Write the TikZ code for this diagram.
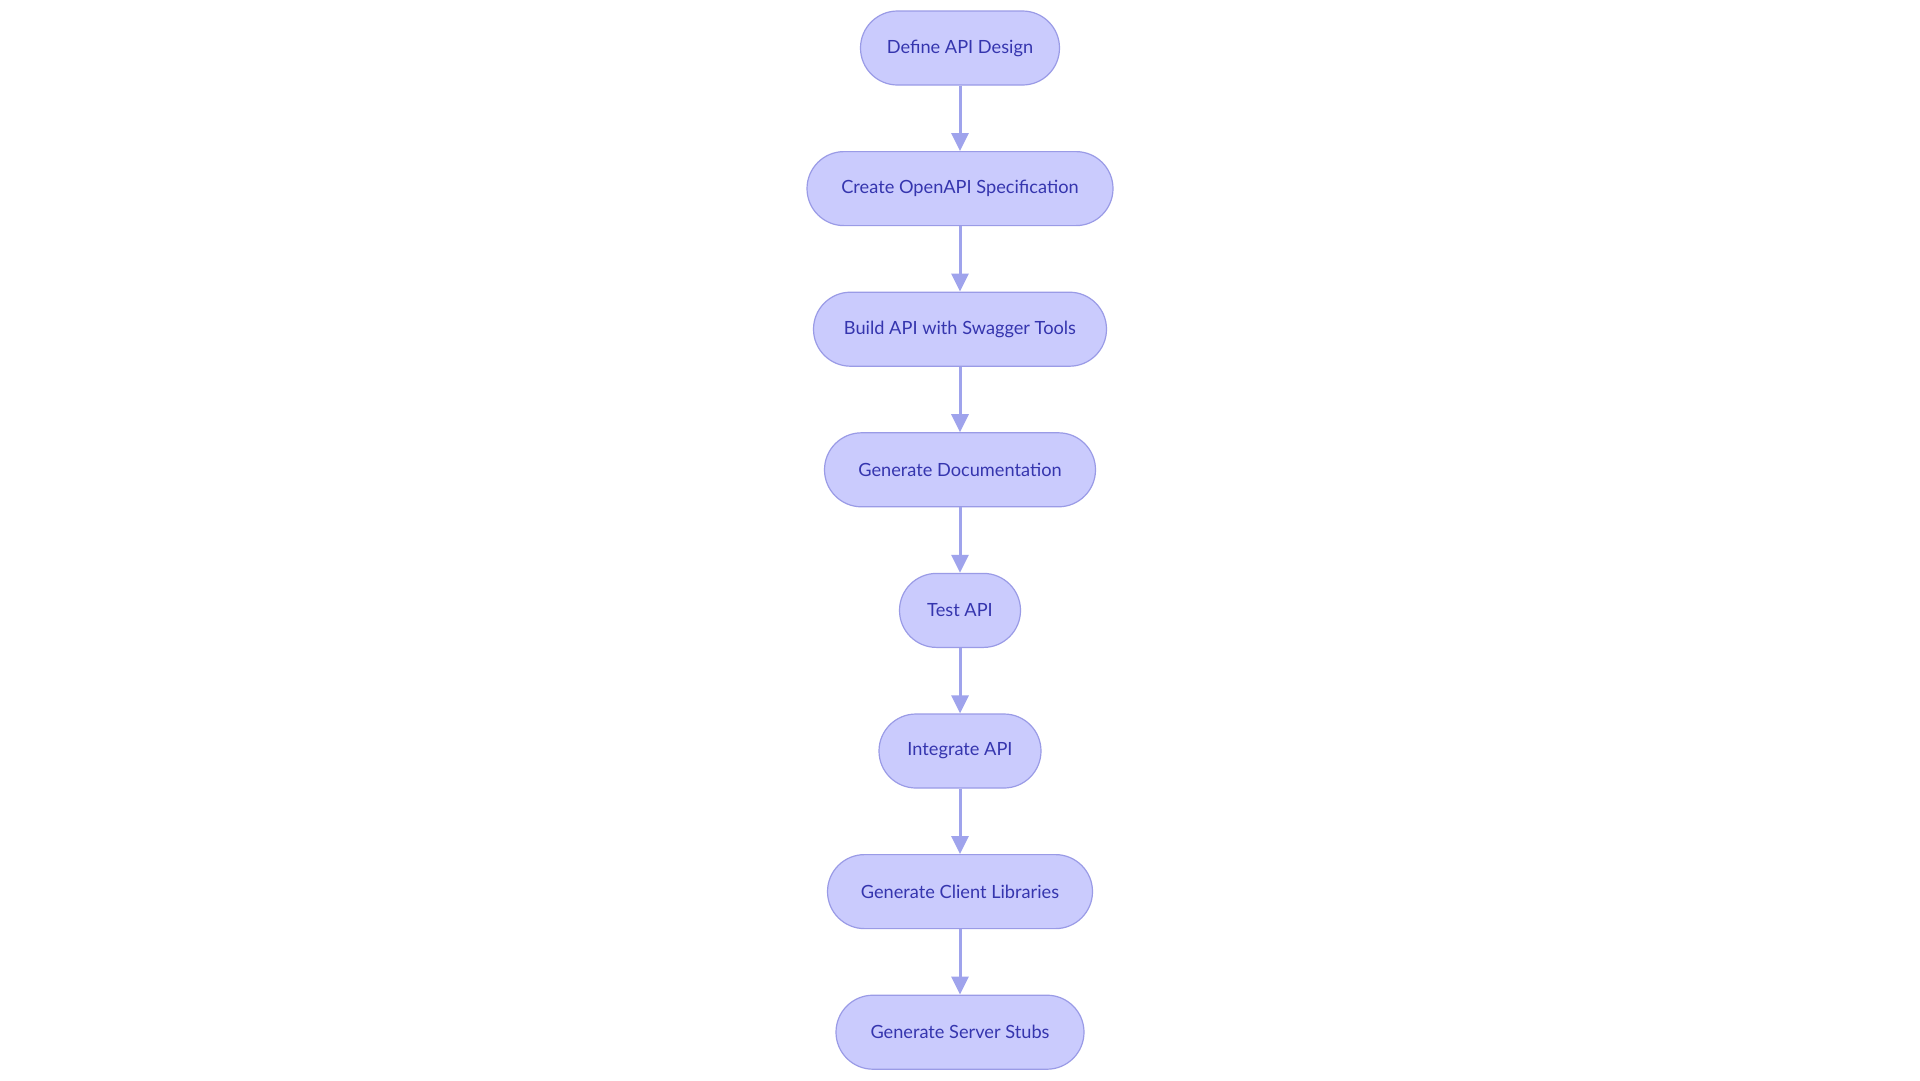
\documentclass[tikz,border=0pt]{standalone}
\usepackage{fontspec}
\setmainfont{Lato}
\usetikzlibrary{arrows.meta}
\definecolor{nodefill}{HTML}{CACBFD}
\definecolor{nodeborder}{HTML}{9A9BE6}
\definecolor{nodetext}{HTML}{3535AE}
\definecolor{arrowcol}{HTML}{9FA3EC}
\begin{document}
\begin{tikzpicture}[x=1pt,y=-1pt,
  stepbox/.style={draw=nodeborder, fill=nodefill, line width=1.2pt, rounded corners=37pt,
    minimum height=74pt, text=nodetext, font=\fontsize{18.2}{22}\selectfont, inner sep=0pt},
  flow/.style={draw=arrowcol, line width=3pt, -{Triangle[length=18pt,width=17pt]}}]
\useasboundingbox[fill=white] (0,0) rectangle (1920,1080);
\node[stepbox, minimum width=199pt] (a) at (960,48.0) {Define API Design};
\node[stepbox, minimum width=306pt] (b) at (960,188.6) {Create OpenAPI Specification};
\node[stepbox, minimum width=293pt] (c) at (960,329.2) {Build API with Swagger Tools};
\node[stepbox, minimum width=271pt] (d) at (960,469.8) {Generate Documentation};
\node[stepbox, minimum width=121pt] (e) at (960,610.4) {Test API};
\node[stepbox, minimum width=162pt] (f) at (960,751.0) {Integrate API};
\node[stepbox, minimum width=265pt] (g) at (960,891.6) {Generate Client Libraries};
\node[stepbox, minimum width=248pt] (h) at (960,1032.2) {Generate Server Stubs};
\draw[flow] (a) -- (b);
\draw[flow] (b) -- (c);
\draw[flow] (c) -- (d);
\draw[flow] (d) -- (e);
\draw[flow] (e) -- (f);
\draw[flow] (f) -- (g);
\draw[flow] (g) -- (h);
\end{tikzpicture}
\end{document}
